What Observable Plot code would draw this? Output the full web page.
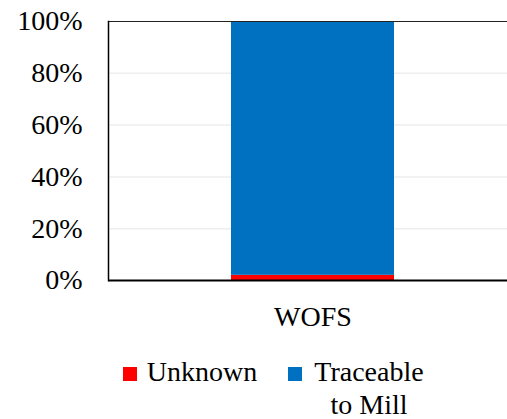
<!DOCTYPE html>
<html><head><meta charset="utf-8">
<script src="https://cdn.jsdelivr.net/npm/d3@7"></script>
<script src="https://cdn.jsdelivr.net/npm/@observablehq/plot@0.6"></script>
<style>
body{margin:0;background:#fff;overflow:hidden;font-family:'Liberation Serif','Times New Roman',Tinos,Georgia,serif;}
#chart{position:relative;width:507px;height:419px;}
#chart svg text{font-family:'Liberation Serif','Times New Roman',Tinos,Georgia,serif;}
.lg{position:absolute;font-size:28px;line-height:33px;color:#000;font-family:'Liberation Serif','Times New Roman',Tinos,Georgia,serif;white-space:nowrap;}
.sw{position:absolute;width:14px;height:14px;}
</style>
</head><body><div id="chart"></div>
<script>
const categories = ["WOFS"];
const series = ["Unknown", "Traceable to Mill"];
const unknown = [2];
const traceable = [98];
const colors = ["#ff0000", "#0070c0"];
const yTicks = [0, 20, 40, 60, 80, 100];

const data = [];
categories.forEach((c, i) => {
  data.push({cat: c, series: series[0], value: unknown[i]});
  data.push({cat: c, series: series[1], value: traceable[i]});
});

const fam = "'Liberation Serif', 'Times New Roman', Tinos, Georgia, serif";
const plot = Plot.plot({
  width: 507, height: 340,
  marginLeft: 108, marginRight: 0, marginTop: 21, marginBottom: 60,
  style: {fontFamily: fam, fontSize: "28px", color: "#000", background: "#fff"},
  x: {domain: categories, range: [108, 517], padding: 0.43, axis: null},
  y: {domain: [0, 100], axis: null},
  color: {domain: series, range: colors},
  marks: [
    Plot.ruleY(yTicks.filter(t => t > 0 && t < 100), {stroke: "#eeeeee", strokeWidth: 1.5}),
    Plot.barY(data, {x: "cat", y: "value", fill: "series"}),
    Plot.ruleY([100], {stroke: "#222", strokeWidth: 1.2}),
    Plot.frame({anchor: "left", stroke: "#000", strokeWidth: 1.5}),
    Plot.ruleY([0], {stroke: "#000", strokeWidth: 2}),
    Plot.axisY(yTicks, {tickSize: 0, tickPadding: 26, tickFormat: d => d + "%", fontSize: 28, label: null}),
    Plot.axisX({tickSize: 0, tickPadding: 26, fontSize: 28, label: null})
  ]
});
const chart = document.getElementById("chart");
chart.appendChild(plot);

const legend = [
  {label: "Unknown", color: colors[0], sx: 123, tx: 145, w: 114},
  {label: "Traceable<br>to Mill", color: colors[1], sx: 288, tx: 310, w: 118}
];
legend.forEach(l => {
  const s = document.createElement("div");
  s.className = "sw"; s.style.left = l.sx + "px"; s.style.top = "367px"; s.style.background = l.color;
  chart.appendChild(s);
  const t = document.createElement("div");
  t.className = "lg"; t.style.left = l.tx + "px"; t.style.top = "355px";
  t.style.width = l.w + "px"; t.style.textAlign = "center";
  t.innerHTML = l.label;
  chart.appendChild(t);
});
</script>
</body></html>
